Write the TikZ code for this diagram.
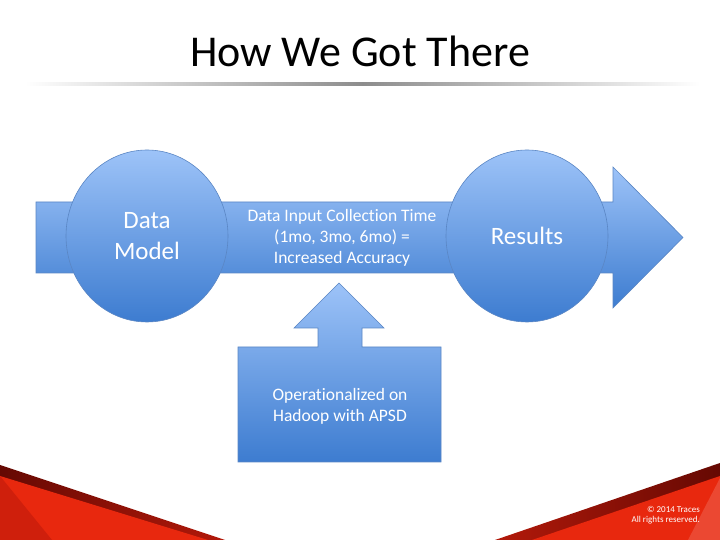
\documentclass[tikz,border=0pt]{standalone}
\usepackage{fontspec}
\setmainfont{Carlito}[Ligatures={NoCommon,NoContextual}]
\usetikzlibrary{shapes.geometric}

\definecolor{blueTop}{HTML}{9DC3F8}
\definecolor{blueBot}{HTML}{3D7CD0}
\definecolor{blueEdge}{HTML}{5A86C4}
\definecolor{redDark}{HTML}{650903}
\definecolor{redMid}{HTML}{B3190A}
\definecolor{redBright}{HTML}{E8280E}
\definecolor{redShade}{HTML}{CF1F0C}

\begin{document}
\begin{tikzpicture}[x=1pt, y=1pt,
    bluefill/.style={top color=blueTop, bottom color=blueBot, draw=blueEdge, line width=0.6pt},
    bubble/.style={ellipse, bluefill, minimum width=162pt, minimum height=172pt, inner sep=0pt,
        text=white, align=center, font=\fontsize{25}{31}\selectfont},
    note/.style={text=white, align=center, font=\fontsize{17.5}{21}\selectfont}]
    \fill[white] (0,0) rectangle (720,540);
    \useasboundingbox (0,0) rectangle (720,540);

    \node (title) at (360,489) {\fontsize{44}{50}\selectfont How We Got There};
    \shade[left color=white, right color=white, middle color=black!45] (25,454) rectangle (700,457);

    % main arrow
    \path[bluefill] (36,267) -- (613,267) -- (613,232) -- (683,302.5) -- (613,373)
        -- (613,338) -- (36,338) -- cycle;
    \node[bubble] (model) at (147,304) {Data\\Model};
    \node[bubble] (results) at (527,304) {Results};
    \node[note] (input) at (342,302) {Data Input Collection Time\\(1mo, 3mo, 6mo) =\\Increased Accuracy};

    % callout
    \path[bluefill] (238,78) -- (441,78) -- (441,193) -- (362,193) -- (362,212) -- (384,212)
        -- (339,257) -- (294,212) -- (318,212) -- (318,193) -- (238,193) -- cycle;
    \node[note] (hadoop) at (340,134) {Operationalized on\\Hadoop with APSD};

    % red corners
    \shade[left color=redDark, right color=redMid] (0,75) -- (225,0) -- (0,0) -- cycle;
    \fill[redBright] (0,64) -- (208,0) -- (0,0) -- cycle;
    \fill[redShade] (0,64) -- (52,0) -- (0,0) -- cycle;
    \shade[left color=redMid, right color=redDark] (720,77) -- (495,0) -- (720,0) -- cycle;
    \fill[redBright] (720,64) -- (532,0) -- (720,0) -- cycle;
    \fill[redBright!85!white] (720,62) -- (688,0) -- (720,0) -- cycle;
    \node[text=white, align=right, anchor=south east, inner sep=0pt,
        font=\fontsize{9}{9.5}\selectfont] (copy) at (700,16) {© 2014 Traces\\All rights reserved.};
\end{tikzpicture}
\end{document}
